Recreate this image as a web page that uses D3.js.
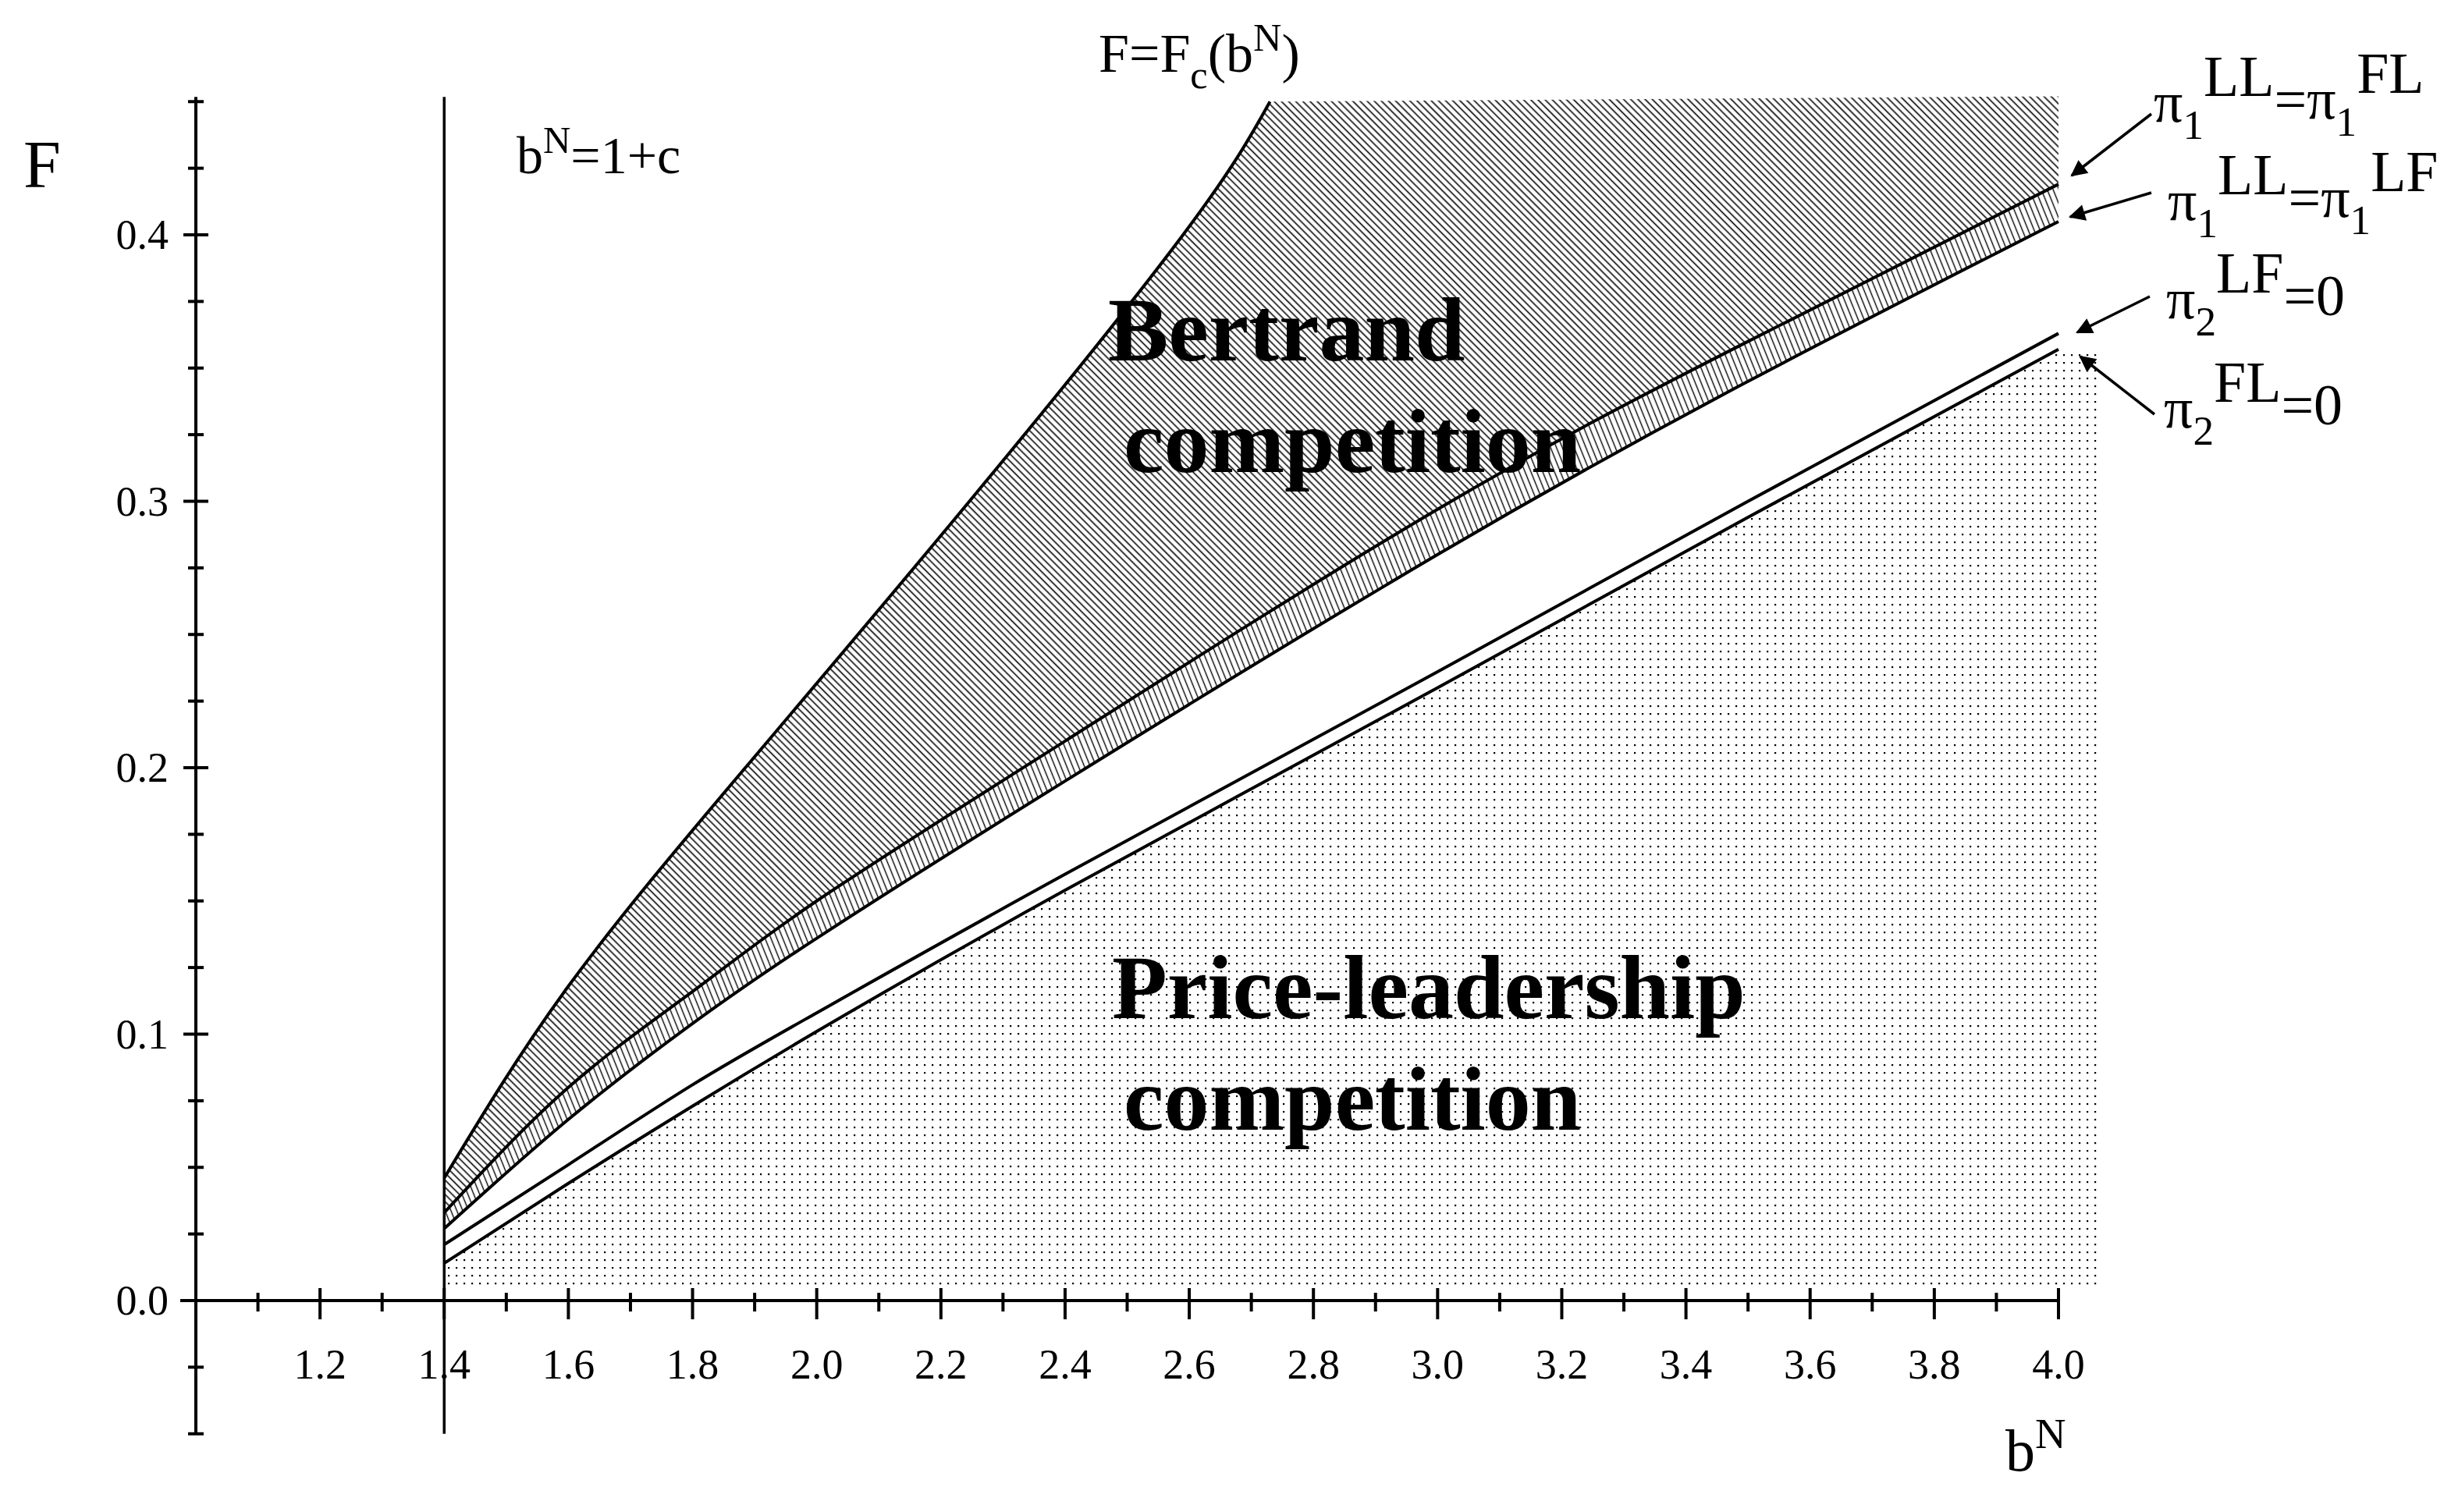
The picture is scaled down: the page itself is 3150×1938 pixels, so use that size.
<!DOCTYPE html>
<html><head><meta charset="utf-8">
<script src="https://cdn.jsdelivr.net/npm/d3@7"></script>
<style>body{margin:0;background:#fff}text{font-family:"Liberation Serif","Times New Roman",serif;fill:#000}</style>
</head><body>
<script>
// data
const bValues = [1.4, 1.6, 1.8, 2.0, 2.4, 3.0, 3.5, 4.0];
const fcB = [1.4, 1.6, 1.885, 2.246, 2.59, 2.73];
const fcF = [0.046, 0.118, 0.200, 0.300, 0.400, 0.450];
const piLL_FL = [0.033,0.080,0.116,0.150,0.210,0.297,0.360,0.419];
const piLL_LF = [0.027,0.068,0.104,0.136,0.195,0.280,0.345,0.405];
const pi2LF  = [0.021,0.051,0.081,0.108,0.160,0.236,0.300,0.363];
const pi2FL  = [0.014,0.044,0.073,0.101,0.154,0.230,0.294,0.357];
const topF = 0.452, cutB = 4.0, dotRight = 4.07, dotBottom = 0.005;
const xMajor = [1.2,1.4,1.6,1.8,2.0,2.2,2.4,2.6,2.8,3.0,3.2,3.4,3.6,3.8,4.0];
const xMinor = [1.1,1.3,1.5,1.7,1.9,2.1,2.3,2.5,2.7,2.9,3.1,3.3,3.5,3.7,3.9];
const yMajor = [0.0,0.1,0.2,0.3,0.4];
const yMinor = [-0.05,-0.025,0.025,0.05,0.075,0.125,0.15,0.175,0.225,0.25,0.275,0.325,0.35,0.375,0.425,0.45];

const W=3150,H=1938;
const x = d3.scaleLinear().domain([1.0,4.0]).range([251,2638]);
const y = d3.scaleLinear().domain([0,0.4]).range([1667,301]);
const svg = d3.select("body").append("svg").attr("width",W).attr("height",H);
const defs = svg.append("defs");
function hatch(id, rot, sp, sw){
  const p = defs.append("pattern").attr("id",id).attr("patternUnits","userSpaceOnUse")
   .attr("width",sp).attr("height",sp).attr("patternTransform",`rotate(${rot})`);
  p.append("line").attr("x1",sp/2).attr("x2",sp/2).attr("y1",0).attr("y2",sp).attr("stroke","#000").attr("stroke-width",sw);
}
hatch("h1",-45,6.5,1.6);
hatch("h2",-22,7,1.4);
const pd = defs.append("pattern").attr("id","dots").attr("patternUnits","userSpaceOnUse").attr("width",10).attr("height",10);
pd.append("rect").attr("x",4).attr("y",4).attr("width",2.2).attr("height",2.2).attr("fill","#000");

const L1 = bValues.map((b,i)=>[b,piLL_FL[i]]);
const L2 = bValues.map((b,i)=>[b,piLL_LF[i]]);
const L3 = bValues.map((b,i)=>[b,pi2LF[i]]);
const L4 = bValues.map((b,i)=>[b,pi2FL[i]]);
const FC = fcB.map((b,i)=>[b,fcF[i]]);
const mon = d3.line().x(d=>x(d[0])).y(d=>y(d[1])).curve(d3.curveNatural);
function sample(pts){const p=document.createElementNS("http://www.w3.org/2000/svg","path");p.setAttribute("d",mon(pts));svg.node().appendChild(p);const n=p.getTotalLength();const out=[];for(let t=0;t<=n;t+=4){const q=p.getPointAtLength(t);out.push([q.x,q.y]);}const q=p.getPointAtLength(n);out.push([q.x,q.y]);p.remove();return out;}
const s1=sample(L1),s2=sample(L2),s4=sample(L4),sF=sample(FC);
const poly = pts=>"M"+pts.map(p=>p.join(",")).join("L")+"Z";
svg.append("path").attr("d",poly(sF.concat([[x(cutB),y(topF)],[x(cutB),y(piLL_FL[7])]]).concat(s1.slice().reverse()))).attr("fill","url(#h1)");
svg.append("path").attr("d",poly(s1.concat(s2.slice().reverse()))).attr("fill","url(#h2)");
svg.append("path").attr("d",poly(s4.concat([[x(dotRight),y(pi2FL[7])],[x(dotRight),y(dotBottom)],[x(1.4),y(dotBottom)]]))).attr("fill","url(#dots)");

[FC,L1,L2,L3,L4].forEach(d=>svg.append("path").attr("d",mon(d)).attr("fill","none").attr("stroke","#000").attr("stroke-width",4));

// axes
svg.append("line").attr("x1",231).attr("x2",x(4.0)).attr("y1",y(0)).attr("y2",y(0)).attr("stroke","#000").attr("stroke-width",4);
svg.append("line").attr("x1",x(1)).attr("x2",x(1)).attr("y1",y(0.45)-6).attr("y2",y(-0.05)).attr("stroke","#000").attr("stroke-width",4);
svg.append("line").attr("x1",x(1.4)).attr("x2",x(1.4)).attr("y1",y(0.45)-6).attr("y2",y(-0.05)).attr("stroke","#000").attr("stroke-width",3.5);
xMajor.forEach(v=>svg.append("line").attr("x1",x(v)).attr("x2",x(v)).attr("y1",y(0)-16).attr("y2",y(0)+24).attr("stroke","#000").attr("stroke-width",4));
xMinor.forEach(v=>svg.append("line").attr("x1",x(v)).attr("x2",x(v)).attr("y1",y(0)-10).attr("y2",y(0)+14).attr("stroke","#000").attr("stroke-width",4));
yMajor.forEach(v=>svg.append("line").attr("x1",x(1)-16).attr("x2",x(1)+16).attr("y1",y(v)).attr("y2",y(v)).attr("stroke","#000").attr("stroke-width",4));
yMinor.forEach(v=>svg.append("line").attr("x1",x(1)-10).attr("x2",x(1)+10).attr("y1",y(v)).attr("y2",y(v)).attr("stroke","#000").attr("stroke-width",4));
svg.selectAll(".xl").data(xMajor).enter().append("text").attr("x",d=>x(d)).attr("y",y(0)+100).attr("text-anchor","middle").attr("font-size",54).text(d=>d.toFixed(1));
svg.selectAll(".yl").data(yMajor).enter().append("text").attr("x",x(1)-35).attr("y",d=>y(d)+18).attr("text-anchor","end").attr("font-size",54).text(d=>d.toFixed(1));

function rich(xp,yp,size,parts){
  const t=svg.append("text").attr("x",xp).attr("y",yp).attr("font-size",size);
  parts.forEach(p=>{const s=t.append("tspan").text(p[0]);
    if(p[1]==="sup"){s.attr("dy",-size*0.38).attr("font-size",size*0.72);}
    else if(p[1]==="sub"){s.attr("dy",size*0.3).attr("font-size",size*0.72);}
    if(p[2]) s.attr("dy",p[2]);});
  return t;
}
rich(30,240,86,[["F"]]);
rich(662,222,68,[["b"],["N","sup"],["=1+c","",26]]);
rich(1408,92,70,[["F=F"],["c","sub"],["(b","",-21],["N","sup"],[")","",27]]);
rich(2570,1885,76,[["b"],["N","sup"]]);
svg.append("text").attr("x",1420).attr("y",462).attr("font-size",116).attr("font-weight","bold").text("Bertrand");
svg.append("text").attr("x",1440).attr("y",605).attr("font-size",116).attr("font-weight","bold").text("competition");
svg.append("text").attr("x",1425).attr("y",1305).attr("font-size",116).attr("font-weight","bold").text("Price-leadership");
svg.append("text").attr("x",1440).attr("y",1448).attr("font-size",116).attr("font-weight","bold").text("competition");

const rl = [
  [2760,156,[["π"],["1","sub"],["LL","",-55],["=π","",29],["1","sub"],["FL","",-55]]],
  [2778,282,[["π"],["1","sub"],["LL","",-55],["=π","",29],["1","sub"],["LF","",-55]]],
  [2776,408,[["π"],["2","sub"],["LF","",-55],["=0","",29]]],
  [2773,548,[["π"],["2","sub"],["FL","",-55],["=0","",29]]]
];
rl.forEach(r=>rich(r[0],r[1],74,r[2]));
const arrows=[[2757,146,2655,225],[2757,247,2653,278],[2755,380,2662,426],[2761,531,2666,457]];
defs.append("marker").attr("id","ah").attr("viewBox","0 0 10 10").attr("refX",9).attr("refY",5)
 .attr("markerWidth",7).attr("markerHeight",6).attr("markerUnits","strokeWidth").attr("orient","auto")
 .append("path").attr("d","M0,0L10,5L0,10Z").attr("fill","#000");
arrows.forEach(a=>svg.append("line").attr("x1",a[0]).attr("y1",a[1]).attr("x2",a[2]).attr("y2",a[3]).attr("stroke","#000").attr("stroke-width",3.5).attr("marker-end","url(#ah)"));
</script>
</body></html>
